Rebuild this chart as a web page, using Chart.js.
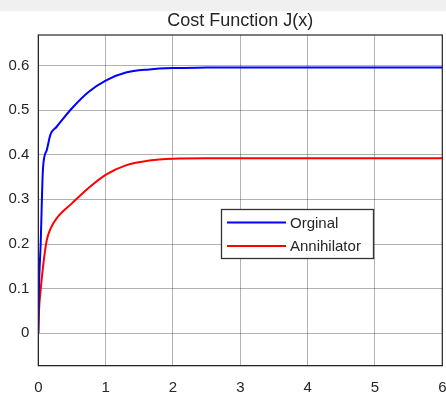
<!DOCTYPE html>
<html>
<head>
<meta charset="utf-8">
<script src="https://cdn.jsdelivr.net/npm/chart.js@4.4.0/dist/chart.umd.min.js"></script>
<style>
  html, body { margin: 0; padding: 0; background: #ffffff; }
  #wrap { position: relative; width: 446px; height: 394px; }
  #band { position: absolute; left: 0; top: 0; width: 446px; height: 11px; background: #f0f0f0; }
  canvas { display: block; }
</style>
</head>
<body>
<div id="wrap">
  <div id="band"></div>
  <canvas id="costChart" width="446" height="394"></canvas>
</div>
<script>
// -- Cost function data
var xVals = [0, 0.01, 0.035, 0.07, 0.125, 0.18, 0.27, 0.5, 0.75, 1.0, 1.3, 1.65, 2.0, 2.5, 3, 4, 5, 6];
var orginal = [0, 0.10, 0.20, 0.37, 0.41, 0.445, 0.462, 0.504, 0.541, 0.566, 0.584, 0.591, 0.594, 0.595, 0.5955, 0.5955, 0.5955, 0.5955];
var annihilator = [0, 0.05, 0.097, 0.149, 0.208, 0.234, 0.257, 0.291, 0.326, 0.355, 0.376, 0.387, 0.391, 0.392, 0.392, 0.392, 0.392, 0.392];
var seriesNames = ["Orginal", "Annihilator"];
var seriesColors = ["#0000ff", "#ff0000"];
var xTicks = [0, 1, 2, 3, 4, 5, 6];
var yTicks = [0, 0.1, 0.2, 0.3, 0.4, 0.5, 0.6];

function toPoints(ys) {
  return xVals.map(function (x, i) { return { x: x, y: ys[i] }; });
}

var FONT = "'Liberation Sans', Arial, sans-serif";
var TXT = "#262626";

// box round the axes plus the legend in the middle of the plot
var boxAndLegend = {
  id: "boxAndLegend",
  afterDatasetsDraw: function (chart) {
    var ctx = chart.ctx;
    var a = chart.chartArea;
    ctx.save();
    ctx.strokeStyle = "#262626";
    ctx.lineWidth = 1.2;
    ctx.strokeRect(a.left, a.top, a.right - a.left, a.bottom - a.top);

    var bx = 221, by = 209, bw = 152, bh = 49;
    ctx.fillStyle = "#ffffff";
    ctx.fillRect(bx, by, bw, bh);
    ctx.strokeStyle = "#333333";
    ctx.lineWidth = 1.3;
    ctx.strokeRect(bx + 0.5, by + 0.5, bw, bh);
    ctx.font = "15px " + FONT;
    ctx.textBaseline = "middle";
    chart.data.datasets.forEach(function (ds, i) {
      var yy = by + 13.5 + i * 23.5;
      ctx.strokeStyle = ds.borderColor;
      ctx.lineWidth = 2;
      ctx.beginPath();
      ctx.moveTo(227, yy);
      ctx.lineTo(286, yy);
      ctx.stroke();
      ctx.fillStyle = TXT;
      ctx.fillText(ds.label, 290, yy + 1);
    });
    ctx.restore();
  }
};

var ctx = document.getElementById("costChart");

var costChart = new Chart(ctx, {
  type: "line",
  data: {
    datasets: [{
      label: seriesNames[0],
      data: toPoints(orginal),
      borderColor: seriesColors[0],
      borderWidth: 2,
      pointRadius: 0,
      cubicInterpolationMode: "monotone",
      fill: false
    }, {
      label: seriesNames[1],
      data: toPoints(annihilator),
      borderColor: seriesColors[1],
      borderWidth: 2,
      pointRadius: 0,
      cubicInterpolationMode: "monotone",
      fill: false
    }]
  },
  options: {
    responsive: false,
    animation: false,
    events: [],
    layout: { padding: { left: 8, right: 3.7, top: 0, bottom: 0 } },
    plugins: {
      legend: { display: false },
      tooltip: { enabled: false },
      title: {
        display: true,
        text: "Cost Function J(x)",
        fullSize: false,
        color: TXT,
        font: { family: FONT, size: 18, weight: "normal" },
        padding: { top: 10, bottom: 3.4 }
      }
    },
    scales: {
      x: {
        type: "linear",
        min: 0,
        max: 6,
        afterBuildTicks: function (s) { s.ticks = xTicks.map(function (v) { return { value: v }; }); },
        afterFit: function (s) { s.height = 28.3; s.paddingLeft = 0; s.paddingRight = 0; },
        ticks: { color: TXT, padding: 13, maxRotation: 0, font: { family: FONT, size: 15 } },
        grid: { color: "rgba(0,0,0,0.3)", drawTicks: false },
        border: { color: "#262626" }
      },
      y: {
        type: "linear",
        min: -0.0725,
        max: 0.668,
        afterBuildTicks: function (s) { s.ticks = yTicks.map(function (v) { return { value: v }; }); },
        afterFit: function (s) { s.width = 30.3; s.paddingTop = 0; s.paddingBottom = 0; },
        ticks: {
          color: TXT,
          padding: 9,
          font: { family: FONT, size: 15 },
          callback: function (v) { return v === 0 ? "0" : v.toFixed(1); }
        },
        grid: { color: "rgba(0,0,0,0.3)", drawTicks: false },
        border: { color: "#262626" }
      }
    }
  },
  plugins: [boxAndLegend]
});
</script>
</body>
</html>
